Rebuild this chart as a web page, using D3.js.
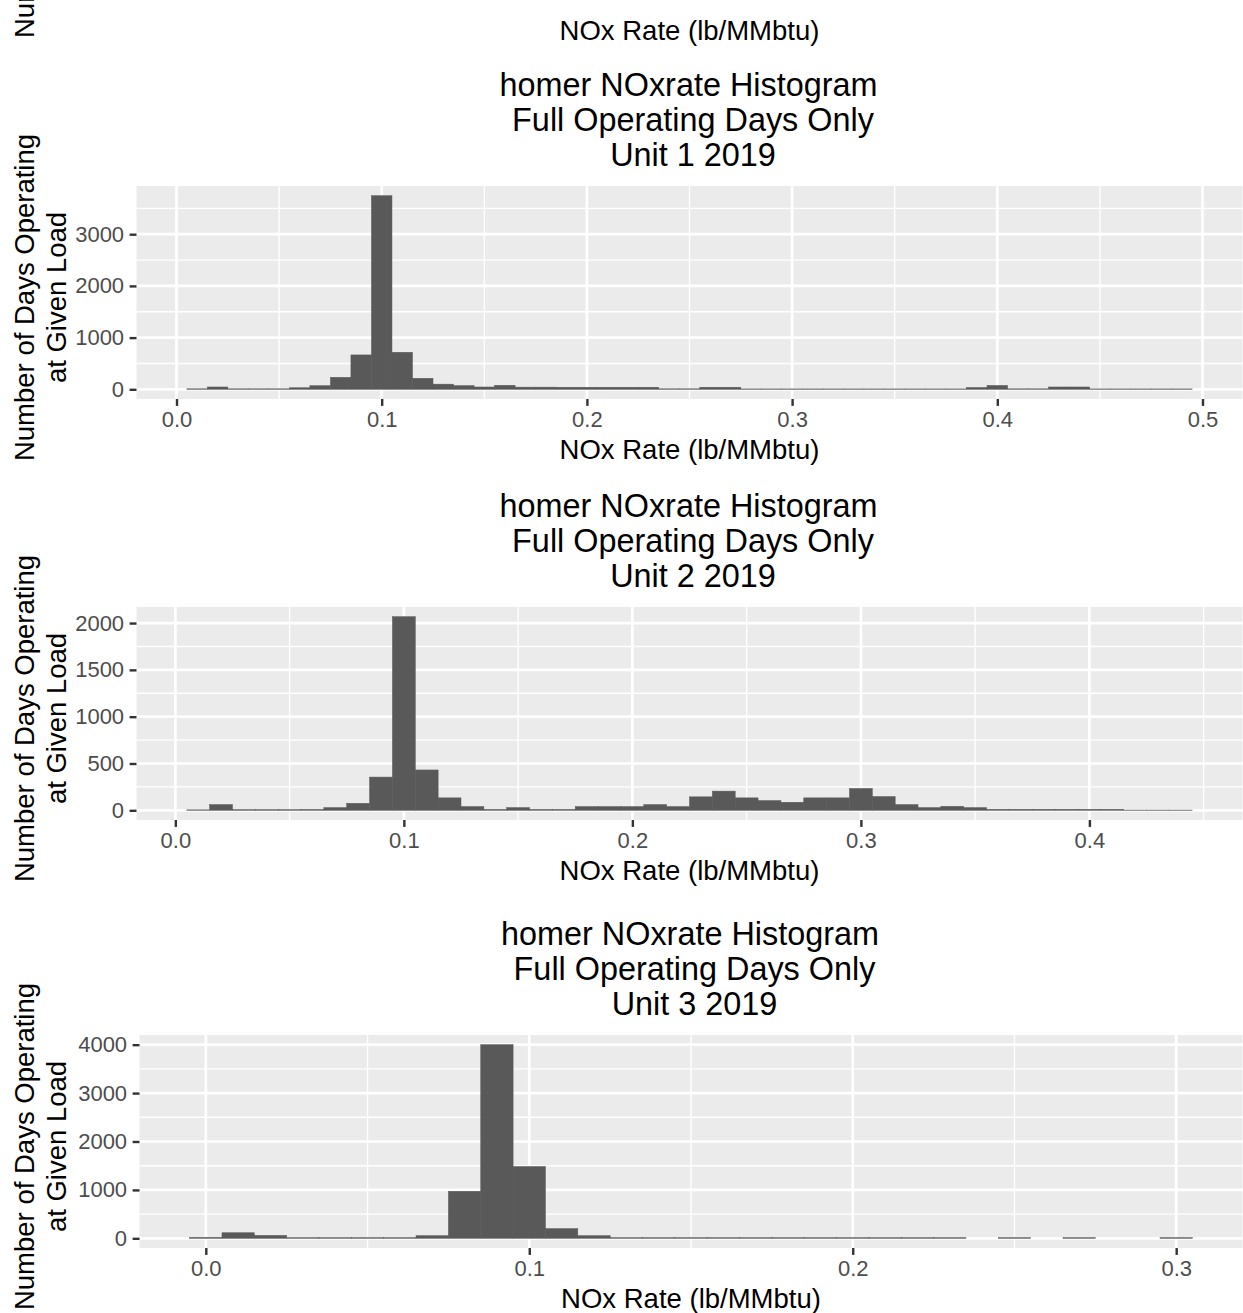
<!DOCTYPE html>
<html>
<head>
<meta charset="utf-8">
<script src="https://cdn.jsdelivr.net/npm/d3@7"></script>
<style>
  body { margin: 0; background: #ffffff; }
  svg { display: block; font-family: "Liberation Sans", Arial, sans-serif; }
</style>
</head>
<body>
<svg id="chart" width="1243" height="1313"></svg>
<script>
// ---------------- DATA ----------------
const binWidth = 0.01;

const unit1Bins = [0.01,0.02,0.03,0.04,0.05,0.06,0.07,0.08,0.09,0.10,
  0.11,0.12,0.13,0.14,0.15,0.16,0.17,0.18,0.19,0.20,
  0.21,0.22,0.23,0.24,0.25,0.26,0.27,0.28,0.29,0.30,
  0.31,0.32,0.33,0.34,0.35,0.36,0.37,0.38,0.39,0.40,
  0.41,0.42,0.43,0.44,0.45,0.46,0.47,0.48,0.49];
const unit1Counts = [10,45,10,10,10,30,70,232,665,3745,
  716,213,100,71,45,77,42,42,40,40,
  40,40,40,10,10,40,40,8,8,8,
  8,8,8,8,8,8,8,8,35,75,
  10,10,45,45,8,8,8,8,8];

const unit2Bins = [0.01,0.02,0.03,0.04,0.05,0.06,0.07,0.08,0.09,0.10,
  0.11,0.12,0.13,0.14,0.15,0.16,0.17,0.18,0.19,0.20,
  0.21,0.22,0.23,0.24,0.25,0.26,0.27,0.28,0.29,0.30,
  0.31,0.32,0.33,0.34,0.35,0.36,0.37,0.38,0.39,0.40,
  0.41,0.42,0.43,0.44];
const unit2Counts = [5,61,8,8,8,10,29,75,355,2068,
  431,133,40,10,29,10,10,40,40,40,
  61,40,144,205,133,104,86,133,133,233,
  147,61,29,43,29,11,11,11,11,11,
  11,3,3,3];

const unit3Bins = [0.00,0.01,0.02,0.03,0.04,0.05,0.06,0.07,0.08,0.09,
  0.10,0.11,0.12,0.13,0.14,0.15,0.16,0.17,0.18,0.19,
  0.20,0.21,0.22,0.23,0.24,0.25,0.26,0.27,0.28,0.29,0.30];
const unit3Counts = [20,115,60,15,15,15,15,55,972,4000,
  1483,200,55,15,15,15,15,15,15,15,
  15,15,15,15,0,15,0,15,0,0,15];

const xTicks1 = [0.0,0.1,0.2,0.3,0.4,0.5];
const xTicks2 = [0.0,0.1,0.2,0.3,0.4];
const xTicks3 = [0.0,0.1,0.2,0.3];
const yTicks1 = [0,1000,2000,3000];
const yTicks2 = [0,500,1000,1500,2000];
const yTicks3 = [0,1000,2000,3000,4000];

const titleLine1 = "homer NOxrate Histogram";
const titleLine2 = " Full Operating Days Only";
const unitTitles = [" Unit 1 2019", " Unit 2 2019", " Unit 3 2019"];
const xTitle = "NOx Rate (lb/MMbtu)";
const yTitle1 = "Number of Days Operating";
const yTitle2 = "at Given Load";

// ---------------- LAYOUT ----------------
const svg = d3.select("#chart");
const panelRight = 1242.5;
const panelH = 213;
const tickLen = 6.9, tickPad = 5.5;
const bg = "#EBEBEB", barFill = "#595959";

const panels = [
  { bins: unit1Bins, counts: unit1Counts, xTicks: xTicks1, yTicks: yTicks1, left: 136.5, top: 186, title3: unitTitles[0] },
  { bins: unit2Bins, counts: unit2Counts, xTicks: xTicks2, yTicks: yTicks2, left: 136.5, top: 607, title3: unitTitles[1] },
  { bins: unit3Bins, counts: unit3Counts, xTicks: xTicks3, yTicks: yTicks3, left: 139.5, top: 1035, title3: unitTitles[2] }
];

function minorBreaks(majors, domain) {
  const step = majors[1] - majors[0];
  const out = [];
  const cand = [majors[0] - step / 2];
  for (let i = 0; i < majors.length - 1; i++) cand.push((majors[i] + majors[i + 1]) / 2);
  cand.push(majors[majors.length - 1] + step / 2);
  cand.forEach(v => { if (v >= domain[0] && v <= domain[1]) out.push(v); });
  return out;
}

// remnant of previous plot at top (clipped in the reference as well)
svg.append("text")
  .attr("x", (136.5 + panelRight) / 2).attr("y", 40)
  .attr("text-anchor", "middle").attr("font-size", 27.5).attr("fill", "#000")
  .text(xTitle);
svg.append("text")
  .attr("transform", "translate(34,38) rotate(-90)")
  .attr("text-anchor", "start").attr("font-size", 27.5).attr("fill", "#000")
  .text(yTitle1);

panels.forEach(p => {
  const L = p.left, T = p.top, B = T + panelH, R = panelRight;
  const cx = (L + R) / 2;

  const xmin = d3.min(p.bins) - binWidth / 2;
  const xmax = d3.max(p.bins) + binWidth / 2;
  const xr = xmax - xmin;
  const x = d3.scaleLinear().domain([xmin - 0.05 * xr, xmax + 0.05 * xr]).range([L, R]);
  const ymaxData = d3.max(p.counts);
  const y = d3.scaleLinear().domain([-0.05 * ymaxData, 1.05 * ymaxData]).range([B, T]);

  // titles
  [titleLine1, titleLine2, p.title3].forEach((t, i) => {
    svg.append("text")
      .attr("x", cx - 1).attr("y", T - 90.5 + i * 35.2)
      .attr("text-anchor", "middle").attr("font-size", 32.4).attr("fill", "#000")
      .style("white-space", "pre")
      .text(t);
  });

  // panel background
  svg.append("rect").attr("x", L).attr("y", T).attr("width", R - L).attr("height", panelH).attr("fill", bg);

  const g = svg.append("g");
  minorBreaks(p.xTicks, x.domain()).forEach(v => {
    g.append("line").attr("x1", x(v)).attr("x2", x(v)).attr("y1", T).attr("y2", B)
      .attr("stroke", "#fff").attr("stroke-width", 1.35);
  });
  minorBreaks(p.yTicks, y.domain()).forEach(v => {
    g.append("line").attr("x1", L).attr("x2", R).attr("y1", y(v)).attr("y2", y(v))
      .attr("stroke", "#fff").attr("stroke-width", 1.35);
  });
  p.xTicks.forEach(v => {
    g.append("line").attr("x1", x(v)).attr("x2", x(v)).attr("y1", T).attr("y2", B)
      .attr("stroke", "#fff").attr("stroke-width", 2.7);
  });
  p.yTicks.forEach(v => {
    g.append("line").attr("x1", L).attr("x2", R).attr("y1", y(v)).attr("y2", y(v))
      .attr("stroke", "#fff").attr("stroke-width", 2.7);
  });

  // bars
  const data = p.bins.map((b, i) => ({ c: b, n: p.counts[i] })).filter(d => d.n > 0);
  svg.append("g").selectAll("rect").data(data).join("rect")
    .attr("x", d => x(d.c - binWidth / 2))
    .attr("width", d => x(d.c + binWidth / 2) - x(d.c - binWidth / 2))
    .attr("y", d => y(d.n))
    .attr("height", d => y(0) - y(d.n))
    .attr("fill", barFill)
    .attr("stroke", barFill).attr("stroke-width", 0.5);

  // axes
  const yAxis = d3.axisLeft(y).tickValues(p.yTicks).tickSize(tickLen).tickPadding(tickPad).tickFormat(d3.format("d"));
  const ya = svg.append("g").attr("transform", `translate(${L},0)`).call(yAxis);
  const xAxis = d3.axisBottom(x).tickValues(p.xTicks).tickSize(tickLen).tickPadding(tickPad).tickFormat(d3.format(".1f"));
  const xa = svg.append("g").attr("transform", `translate(0,${B})`).call(xAxis);
  [ya, xa].forEach(a => {
    a.select(".domain").remove();
    a.selectAll(".tick line").attr("stroke", "#333333").attr("stroke-width", 2.4);
    a.selectAll(".tick text").attr("fill", "#4D4D4D").attr("font-size", 22)
      .attr("font-family", "\"Liberation Sans\", Arial, sans-serif");
  });

  // axis titles
  svg.append("text")
    .attr("x", cx).attr("y", B + 60)
    .attr("text-anchor", "middle").attr("font-size", 27.5).attr("fill", "#000")
    .text(xTitle);
  const cy = (T + B) / 2 + 5;
  svg.append("text")
    .attr("transform", `translate(34,${cy}) rotate(-90)`)
    .attr("text-anchor", "middle").attr("font-size", 27.5).attr("fill", "#000")
    .text(yTitle1);
  svg.append("text")
    .attr("transform", `translate(66,${cy}) rotate(-90)`)
    .attr("text-anchor", "middle").attr("font-size", 27.5).attr("fill", "#000")
    .text(yTitle2);
});
</script>
</body>
</html>
